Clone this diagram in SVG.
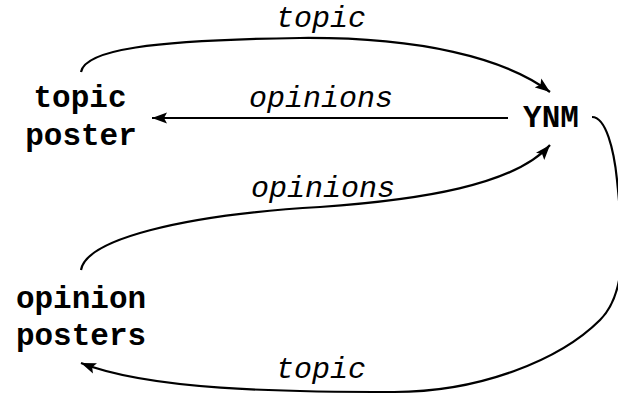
<svg xmlns="http://www.w3.org/2000/svg" width="618" height="397" viewBox="0 0 618 397">
<style>
.node{font-family:"Liberation Mono","Courier New",monospace;font-weight:bold;font-size:31px;fill:#000;text-anchor:middle}
.lbl{font-family:"Liberation Mono","Courier New",monospace;font-style:italic;font-size:30px;fill:#000;text-anchor:middle}
.edge{fill:none;stroke:#000;stroke-width:2.2}
</style>
<defs>
<marker id="ah" markerUnits="userSpaceOnUse" markerWidth="16" markerHeight="12" refX="15" refY="6" orient="auto">
<path d="M0,0.5 L15,6 L0,11.5 L3,6 z" fill="#000"/>
</marker>
</defs>
<rect width="618" height="397" fill="#fff"/>
<g id="edges">
<path class="edge" d="M81 72 C85 50 150 40 300 38 C420 37 505 58 550 92" marker-end="url(#ah)"/>
<path class="edge" d="M508 118 L152 118" marker-end="url(#ah)"/>
<path class="edge" d="M81 270 C86 240 180 215 320 207 C420 200 515 185 550 145" marker-end="url(#ah)"/>
<path class="edge" d="M592 117 C606 117 614 150 617 180 C622 230 630 290 600 320 C560 360 480 392 394 392 C280 392 150 390 81 363" marker-end="url(#ah)"/>
</g>
<g id="labels">
<text class="lbl" x="321" y="27">topic</text>
<text class="lbl" x="321" y="107">opinions</text>
<text class="lbl" x="323" y="197">opinions</text>
<text class="lbl" x="321" y="378">topic</text>
</g>
<g id="topic-poster">
<text class="node" x="80" y="107">topic</text>
<text class="node" x="81" y="145">poster</text>
</g>
<g id="ynm">
<text class="node" x="551" y="127">YNM</text>
</g>
<g id="opinion-posters">
<text class="node" x="81" y="308">opinion</text>
<text class="node" x="81" y="345">posters</text>
</g>
</svg>
